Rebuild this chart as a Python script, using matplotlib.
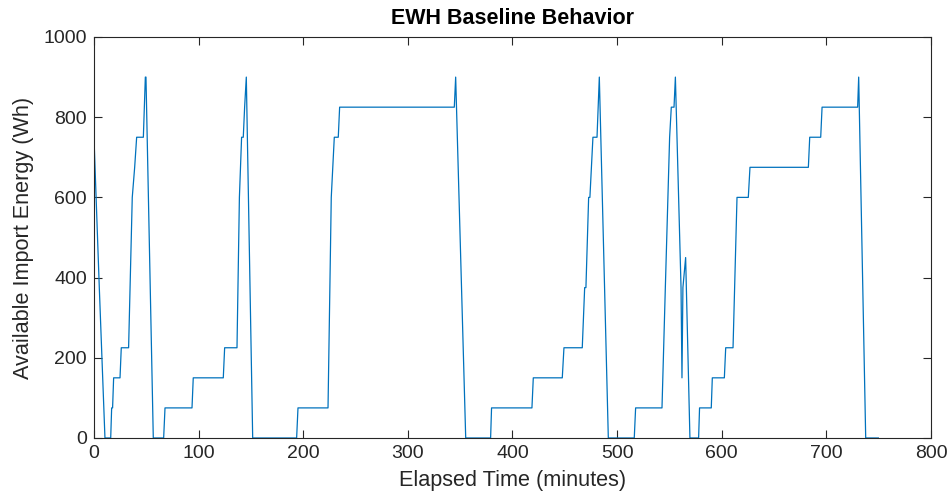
import matplotlib
matplotlib.use("Agg")
import matplotlib.pyplot as plt
import numpy as np

# elapsed time (minutes) and available import energy (Wh)
time_min = [0, 5.1, 10.5, 16.0, 16.9, 17.8, 18.8, 24.9, 26.1, 33.1, 36.6, 38.9, 40.8, 47.2, 49.1, 49.7, 56.7,
            66.6, 67.9, 93.7, 94.9, 123.6, 124.9, 136.7, 139.0, 141.1, 142.7, 144.0, 145.6, 151.7,
            193.7, 195.0, 223.7, 226.8, 229.7, 233.5, 234.8, 344.4, 345.7, 355.3,
            379.1, 380.0, 418.6, 419.9, 447.6, 449.2, 466.7, 469.0, 470.2, 472.8, 474.0, 476.9, 480.8, 483.0, 491.6,
            516.4, 517.7, 542.9, 546.1, 550.2, 551.8, 554.4, 555.7, 561.1, 562.0, 562.9, 565.5, 569.6,
            577.9, 578.8, 590.0, 591.0, 602.5, 603.8, 610.8, 614.6, 625.4, 627.0, 682.8, 684.1, 694.6, 695.9,
            729.9, 730.9, 737.6, 749.7]
energy_wh = [750, 375, 0, 0, 75, 75, 150, 150, 225, 225, 600, 675, 750, 750, 900, 900, 0,
             0, 75, 75, 150, 150, 225, 225, 600, 750, 750, 825, 900, 0,
             0, 75, 75, 600, 750, 750, 825, 825, 900, 0,
             0, 75, 75, 150, 150, 225, 225, 375, 375, 600, 600, 750, 750, 900, 0,
             0, 75, 75, 375, 750, 825, 825, 900, 375, 150, 375, 450, 0,
             0, 75, 75, 150, 150, 225, 225, 600, 600, 675, 675, 750, 750, 825,
             825, 900, 0, 0]

x_ticks = [0, 100, 200, 300, 400, 500, 600, 700, 800]
y_ticks = [0, 200, 400, 600, 800, 1000]

plt.rcParams['font.family'] = ['Liberation Sans', 'DejaVu Sans']
dark = "#262626"

fig = plt.figure(figsize=(9.53, 5.04), dpi=100)
ax = fig.add_axes([0.0986, 0.131, 0.8783, 0.7956])

ax.plot(time_min, energy_wh, color="#0072BD", linewidth=0.9)

ax.set_xlim(0, 800)
ax.set_ylim(0, 1000)
ax.set_xticks(x_ticks)
ax.set_yticks(y_ticks)

# matlab-ish box with inward ticks on all sides
ax.tick_params(direction="in", length=6, width=0.8, top=True, right=True,
               labelsize=14, colors=dark, pad=5)
for side in ax.spines.values():
    side.set_color(dark)
    side.set_linewidth(0.8)

ax.set_title("EWH Baseline Behavior", fontsize=15.5, fontweight="bold", color="black", pad=9)
ax.set_xlabel("Elapsed Time (minutes)", fontsize=15.6, color=dark, labelpad=6)
ax.set_ylabel("Available Import Energy (Wh)", fontsize=15.6, color=dark, labelpad=7)

fig.savefig("out.png", dpi=100)
